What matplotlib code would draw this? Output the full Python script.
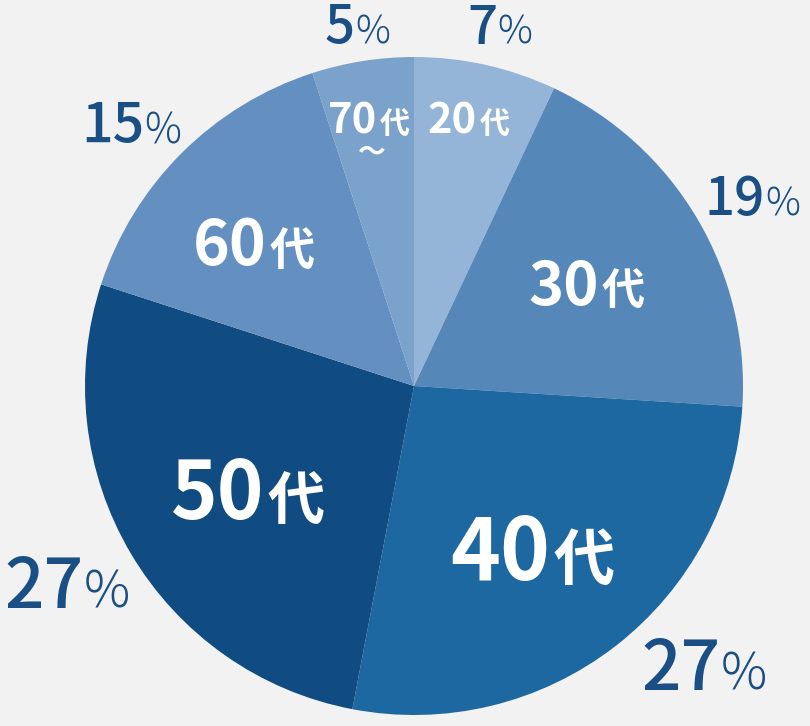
import matplotlib.pyplot as plt

# age groups, clockwise from 12 o'clock
groups = ["20", "30", "40", "50", "60", "70"]
suffixes = ["代", "代", "代", "代", "代", "代"]
shares = [7, 19, 27, 27, 15, 5]
colors = ["#94b4d8", "#5587b9", "#1d68a0", "#104c82", "#648fc1", "#7ba2ca"]

BG = "#f2f2f2"
TXT = "#1a4f85"
W, H = 810, 726

plt.rcParams["font.family"] = ["Noto Sans CJK JP", "DejaVu Sans"]

fig = plt.figure(figsize=(W / 100, H / 100), dpi=100, facecolor=BG)
ax = fig.add_axes([0, 0, 1, 1])
ax.set_facecolor(BG)

cx, cy, r = 414, 386, 329
ax.pie(shares, colors=colors, startangle=90, counterclock=False,
       radius=r, center=(cx, H - cy), frame=True,
       wedgeprops=dict(linewidth=0))
ax.set_xlim(0, W)
ax.set_ylim(0, H)
ax.set_aspect("equal")
ax.axis("off")


def pair(x, y, left, right, size, ratio, color, wl, wr, gap=3):
    # x = join point between the two parts, y = baseline (image coords)
    ax.text(x, H - y, left, ha="right", va="baseline", fontsize=size,
            color=color, fontweight=wl)
    ax.text(x + gap, H - y, right, ha="left", va="baseline", fontsize=size * ratio,
            color=color, fontweight=wr)


# slice labels: join x, baseline y, font size
label_pos = [(477, 133, 30), (599, 305, 43), (550, 580, 61),
             (264, 519, 57), (267, 265, 45), (377, 133, 30)]
for g, s, (x, y, fs) in zip(groups, suffixes, label_pos):
    pair(x, y, g, s, fs, 0.72, "white", "bold", "bold")
ax.text(372, H - 153, "〜", ha="center", va="center", fontsize=20,
        color="white", fontweight="bold")

# percentages outside
pct_pos = [(497, 44, 38), (765, 215, 38), (721, 690, 50),
           (84, 608, 50), (144, 143, 40), (355, 43, 38)]
for v, (x, y, fs) in zip(shares, pct_pos):
    pair(x, y, str(v), "%", fs, 0.74, TXT, "medium", "light", gap=0)

fig.savefig("out.png", dpi=100, facecolor=BG)
